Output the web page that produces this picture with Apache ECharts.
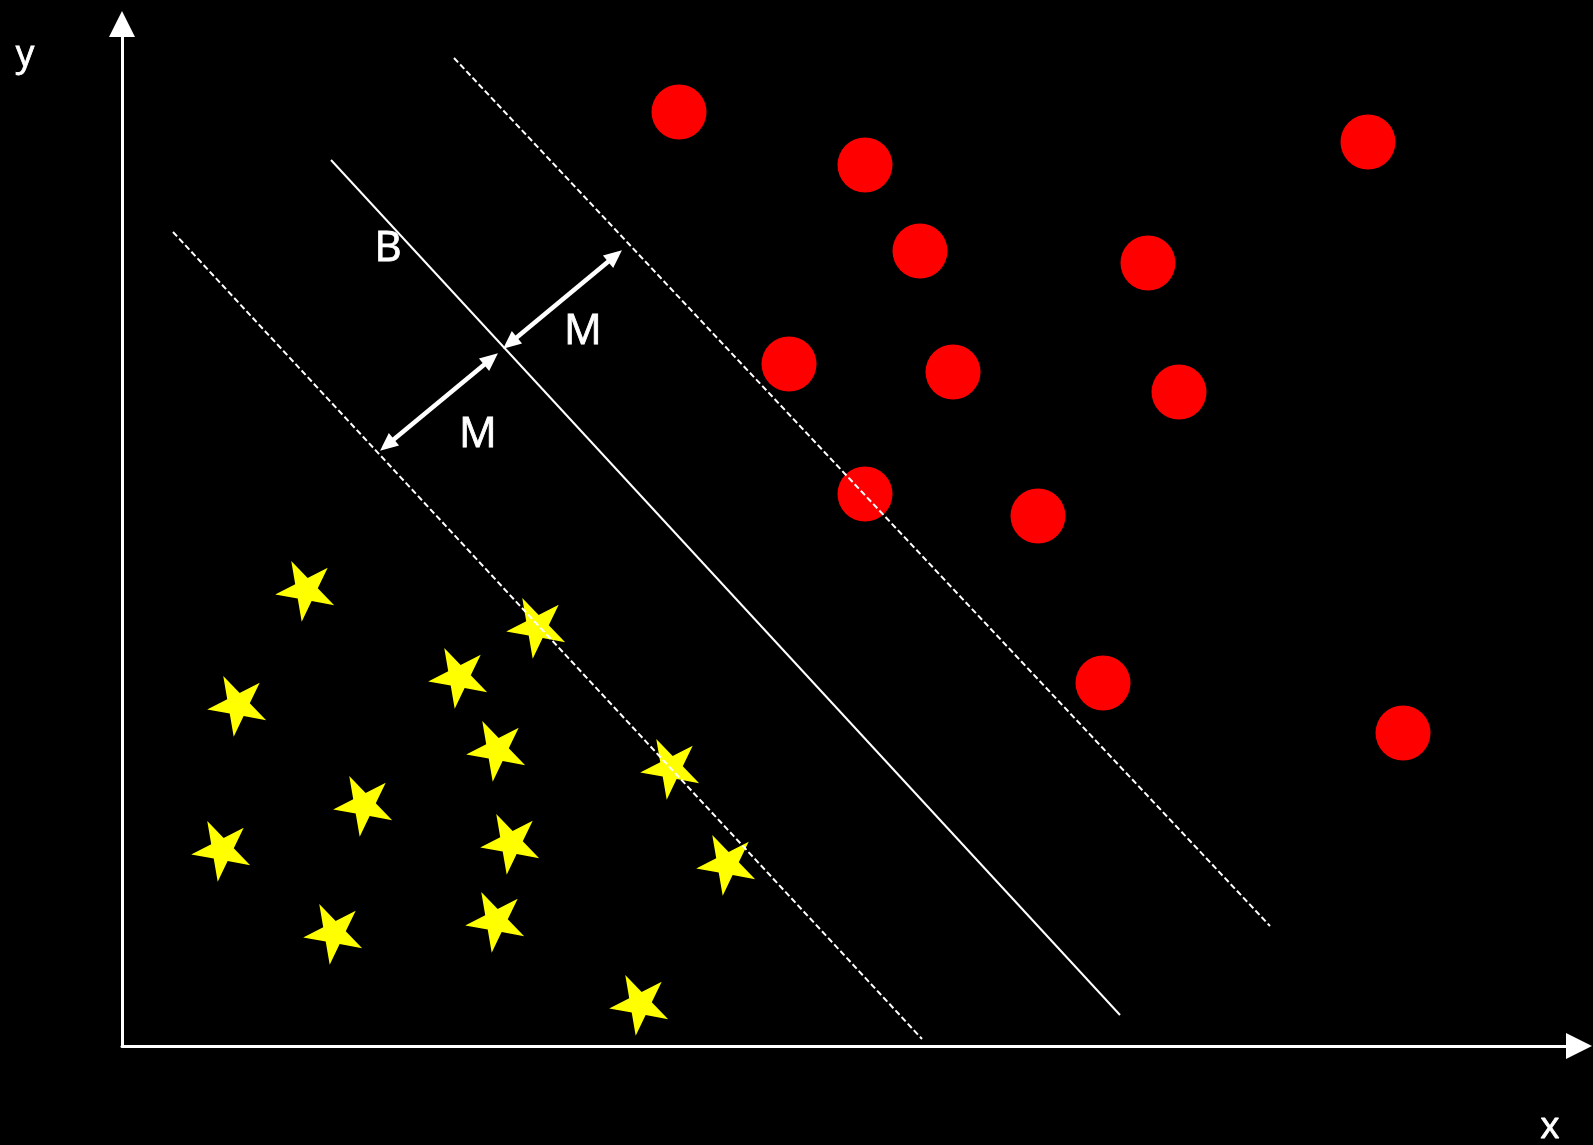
<!DOCTYPE html>
<html>
<head>
<meta charset="utf-8">
<style>html,body{margin:0;padding:0;background:#000}#chart{width:1593px;height:1145px}</style>
<script src="https://cdn.jsdelivr.net/npm/echarts@6/dist/echarts.min.js"></script>
</head>
<body>
<div id="chart"></div>
<script>
// units = distance from the origin
const circlePoints = [[557,934],[743,881],[798,795],[1246,904],[1026,783],[667,682],[831,674],[1057,654],[743,552],[916,530],[981,363],[1281,313]];
const starPoints = [[184,456],[415,419],[337,369],[116,341],[375,296],[549,278],[242,241],[100,196],[389,203],[605,182],[212,113],[374,125],[518,42]];
const marginLines = [[[51,814],[800,7]], [[332,988],[1148,120]]];
const hyperplane = [[209,886],[998,31]];
const marginArrows = [[[388,703],[493,790]], [[265,601],[369,687]]];
const labelNames = ['B','M','M'];
const labelPos = [[266,797],[461,714],[356,611]];
const axisMax = [1457, 1022];

// 5 point star, extra moveTo keeps the box centred on the star centre
const starPath = 'path://M0,100M0,-100L22.45,-30.9L95.1,-30.9L36.33,11.8L58.78,80.9L0,38.2L-58.78,80.9L-36.33,11.8L-95.1,-30.9L-22.45,-30.9Z';
const font = '"Open Sans", "DejaVu Sans", sans-serif';

const chart = echarts.init(document.getElementById('chart'));

function axis(max) {
    return {
        type: 'value', min: 0, max: max,
        axisLine: {
            show: true, onZero: false,
            symbol: ['none', 'triangle'], symbolSize: [26, 26],
            lineStyle: {color: '#fff', width: 3}
        },
        axisTick: {show: false},
        axisLabel: {show: false},
        splitLine: {show: false}
    };
}

function axisName(txt, x, y) {
    return {
        type: 'text', x: x, y: y,
        style: {text: txt, fill: '#fff', stroke: '#fff', lineWidth: 0.8, font: '37px ' + font,
            textAlign: 'center', textVerticalAlign: 'middle'}
    };
}

chart.setOption({
    backgroundColor: '#000',
    animation: false,
    grid: {left: 122, right: 14, top: 24, bottom: 99},
    xAxis: axis(axisMax[0]),
    yAxis: axis(axisMax[1]),
    graphic: [axisName('y', 25, 55), axisName('x', 1550, 1127)],
    series: [
        {
            type: 'scatter', z: 2,
            symbol: 'circle', symbolSize: 55,
            itemStyle: {color: '#ff0000', opacity: 1},
            data: circlePoints
        },
        {
            type: 'scatter', z: 2,
            symbol: starPath, symbolSize: [62, 65], symbolKeepAspect: true, symbolRotate: 27,
            itemStyle: {color: '#ffff00', opacity: 1},
            data: starPoints
        },
        {
            type: 'lines', coordinateSystem: 'cartesian2d', z: 5,
            lineStyle: {color: '#fff', width: 2, type: [6, 3], opacity: 1},
            data: marginLines.map(c => ({coords: c}))
        },
        {
            type: 'lines', coordinateSystem: 'cartesian2d', z: 5,
            lineStyle: {color: '#fff', width: 2, opacity: 1},
            data: [{coords: hyperplane}]
        },
        {
            type: 'lines', coordinateSystem: 'cartesian2d', z: 5,
            symbol: ['triangle', 'triangle'], symbolSize: [[16, 18], [16, 18]],
            lineStyle: {color: '#fff', width: 4.5, opacity: 1},
            itemStyle: {color: '#fff'},
            data: marginArrows.map(c => ({coords: c}))
        },
        {
            type: 'scatter', z: 6,
            symbolSize: 1,
            itemStyle: {color: 'transparent', opacity: 1},
            label: {show: true, position: 'inside', formatter: '{b}', color: '#fff', opacity: 1,
                fontSize: 42, fontFamily: font, textBorderColor: '#fff', textBorderWidth: 0.8},
            data: labelNames.map((n, i) => ({name: n, value: labelPos[i]}))
        }
    ]
});
</script>
</body>
</html>
